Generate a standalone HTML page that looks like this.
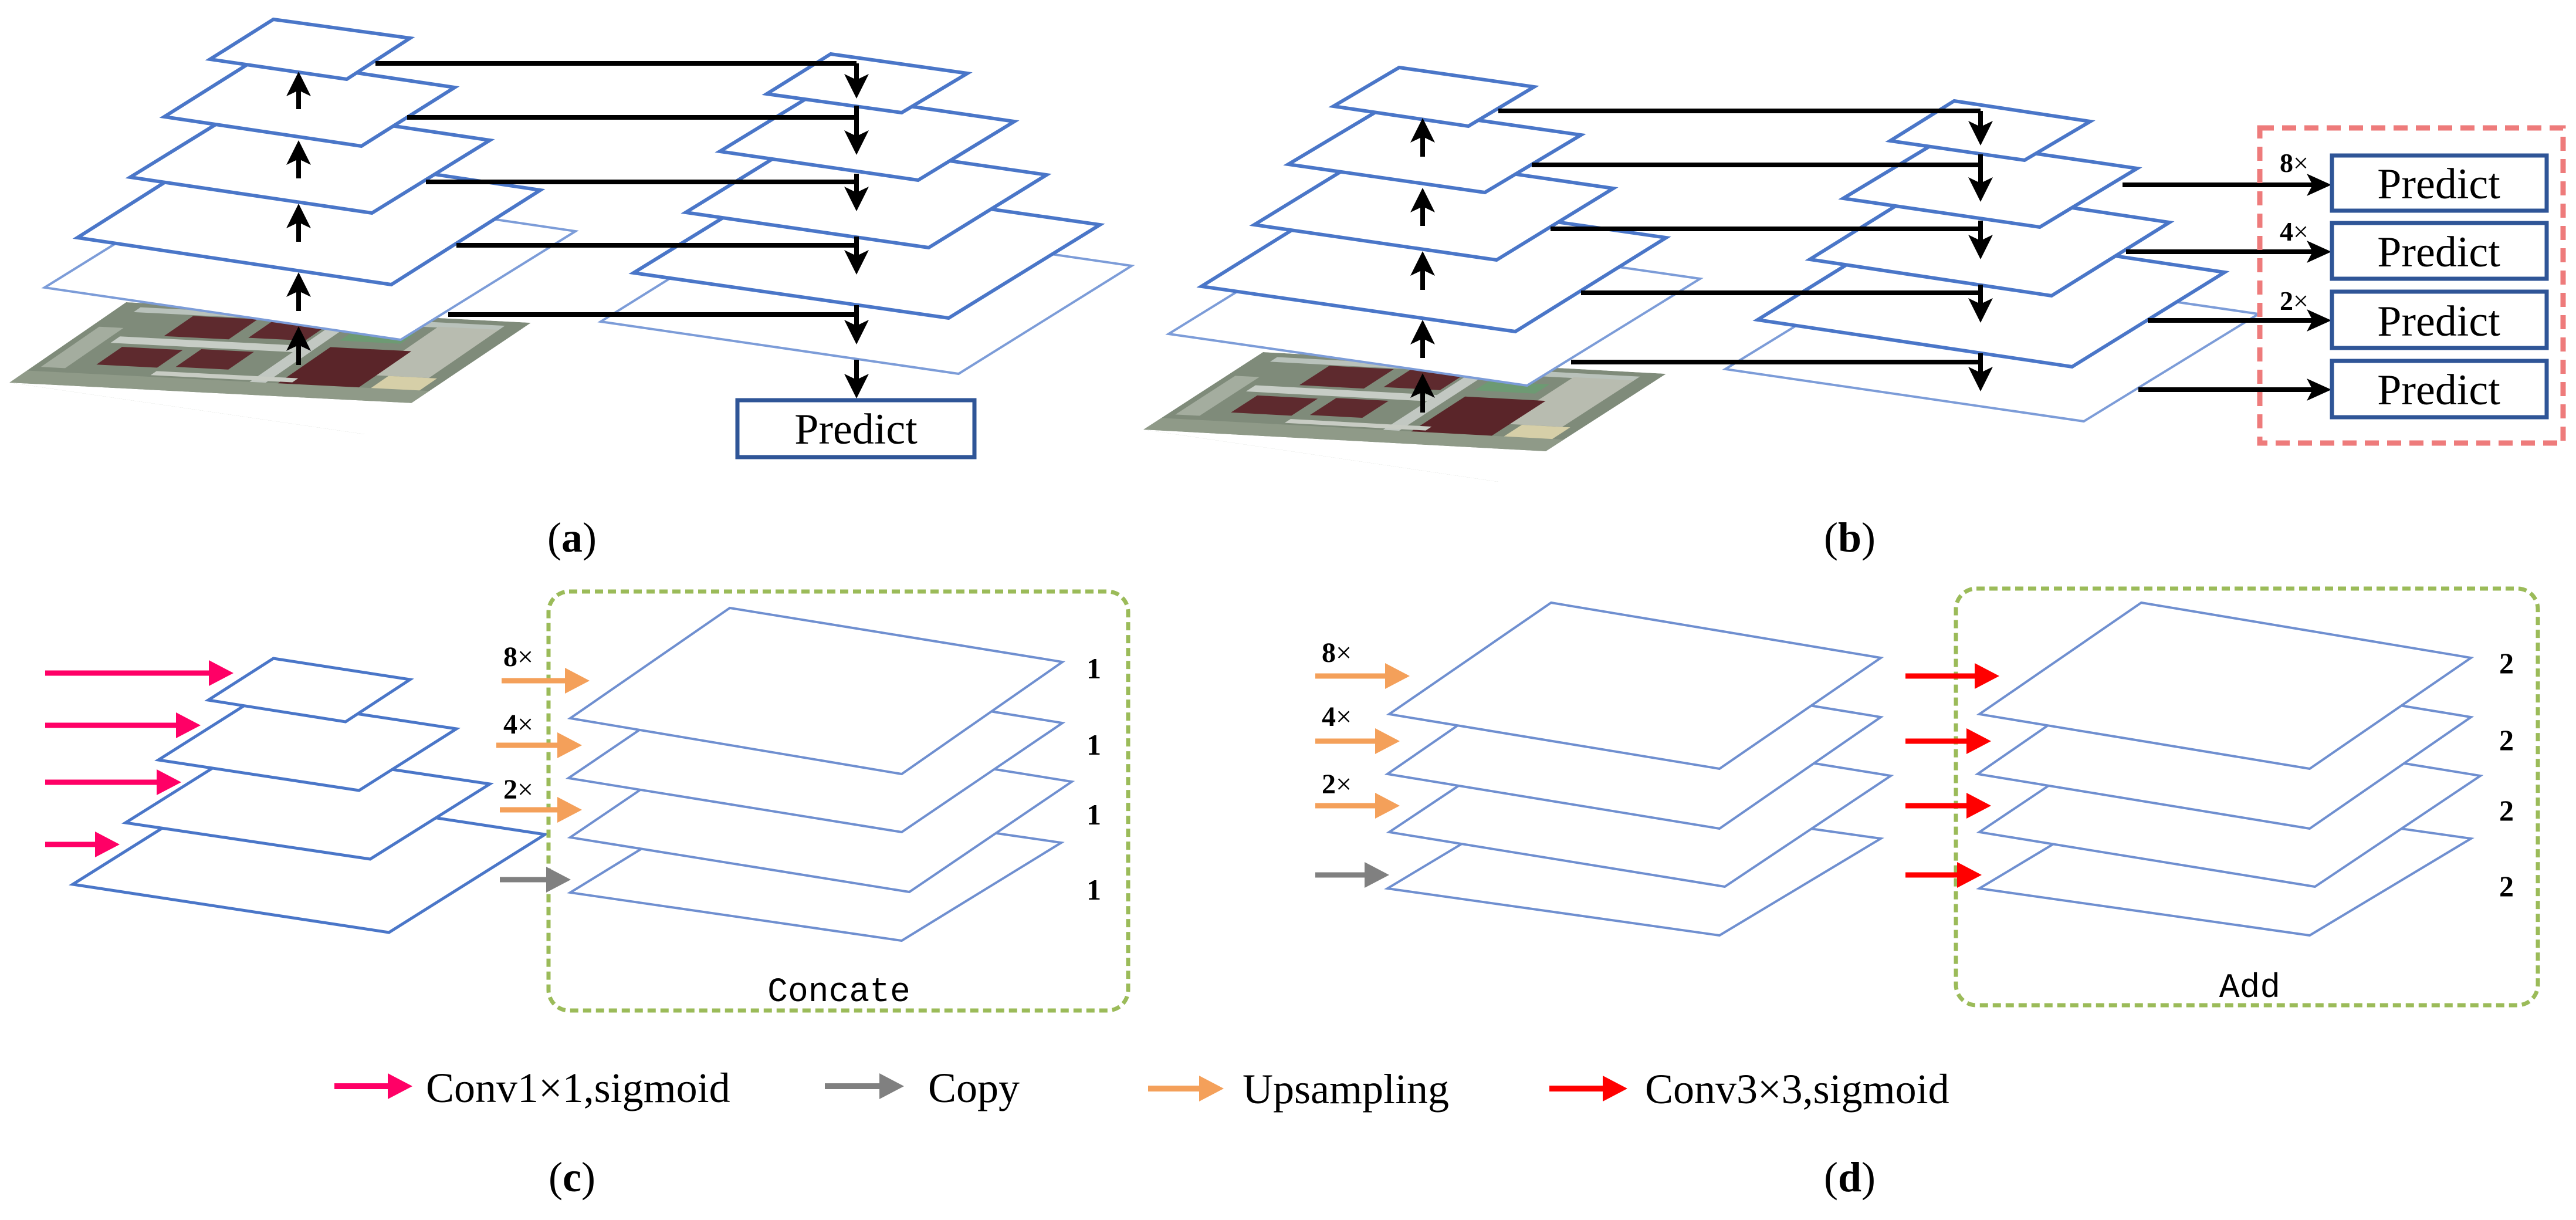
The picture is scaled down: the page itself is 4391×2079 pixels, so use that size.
<!DOCTYPE html>
<html><head><meta charset="utf-8"><style>
html,body{margin:0;padding:0;background:#fff;}
svg{display:block;}
text{font-family:"Liberation Serif",serif;fill:#000;}
</style></head><body>
<svg width="4391" height="2079" viewBox="0 0 4391 2079" xmlns="http://www.w3.org/2000/svg">
<defs>
<clipPath id="ca"><polygon points="215,515 905,550 622,740 16,652"/></clipPath>
<clipPath id="cb"><polygon points="2153,600 2840,637 2554,821 1949,732"/></clipPath>
<g id="sat">
<rect x="0" y="0" width="1" height="1" fill="#7f8b7a"/>
<rect x="0" y="0.85" width="1" height="0.15" fill="#8f9a88"/>
<rect x="0.05" y="0.05" width="0.9" height="0.06" fill="#b9c2bb"/>
<rect x="0.1" y="0.4" width="0.45" height="0.08" fill="#c7cdc6"/>
<rect x="0.55" y="0.05" width="0.04" height="0.8" fill="#c2c8c2"/>
<rect x="0.8" y="0.1" width="0.15" height="0.6" fill="#b8bcb0"/>
<rect x="0.2" y="0.12" width="0.16" height="0.25" fill="#5e2a2e"/>
<rect x="0.4" y="0.1" width="0.14" height="0.24" fill="#5e2a2e"/>
<rect x="0.14" y="0.52" width="0.15" height="0.22" fill="#5e2a2e"/>
<rect x="0.33" y="0.5" width="0.13" height="0.22" fill="#5e2a2e"/>
<rect x="0.62" y="0.4" width="0.2" height="0.45" fill="#5a2529"/>
<rect x="0.62" y="0.2" width="0.15" height="0.12" fill="#6d9a73"/>
<rect x="0.85" y="0.7" width="0.12" height="0.15" fill="#d6cfa8"/>
<rect x="0.02" y="0.3" width="0.06" height="0.5" fill="#a4ad9f"/>
<rect x="0.3" y="0.78" width="0.35" height="0.05" fill="#c8ccc4"/>
</g>
</defs>

<!-- ============ (a) ============ -->
<g clip-path="url(#ca)"><use href="#sat" transform="matrix(690,35,-199,137,215,515)"/><polygon points="622,740 16,652 16,700 622,780" fill="#8a9486"/></g>
<g fill="#fff" stroke-linejoin="miter">
<polygon points="374,305 981,394 683,579 76,490" stroke="#7c9cd8" stroke-width="4"/>
<polygon points="386,244 921,324 667,485 132,405" stroke="#4a76c8" stroke-width="6"/>
<polygon points="423,178 835,239 634,363 222,302" stroke="#4a76c8" stroke-width="6"/>
<polygon points="439,99 775,149 616,249 280,199" stroke="#4a76c8" stroke-width="6"/>
<polygon points="466,33 699,65 591,135 358,101" stroke="#4a76c8" stroke-width="6"/>
<polygon points="1319,364 1929,453 1634,637 1024,548" stroke="#7c9cd8" stroke-width="4"/>
<polygon points="1338,306 1875,383 1617,542 1080,465" stroke="#4a76c8" stroke-width="6"/>
<polygon points="1370,238 1784,298 1583,422 1169,362" stroke="#4a76c8" stroke-width="6"/>
<polygon points="1391,158 1729,207 1565,307 1227,258" stroke="#4a76c8" stroke-width="6"/>
<polygon points="1416,92 1649,125 1537,192 1307,160" stroke="#4a76c8" stroke-width="6"/>
</g>
<g stroke="#000" stroke-width="8" fill="none">
<line x1="509" y1="622" x2="509" y2="586"/><line x1="509" y1="530" x2="509" y2="494"/><line x1="509" y1="412" x2="509" y2="377"/><line x1="509" y1="304" x2="509" y2="269"/><line x1="509" y1="186" x2="509" y2="152"/>
<line x1="640" y1="108" x2="1460" y2="108"/><line x1="694" y1="200" x2="1460" y2="200"/><line x1="726" y1="310" x2="1460" y2="310"/><line x1="778" y1="418" x2="1460" y2="418"/><line x1="764" y1="536" x2="1460" y2="536"/>
<line x1="1460" y1="108" x2="1460" y2="138"/><line x1="1460" y1="180" x2="1460" y2="234"/><line x1="1460" y1="296" x2="1460" y2="330"/><line x1="1460" y1="403" x2="1460" y2="438"/><line x1="1460" y1="520" x2="1460" y2="557"/><line x1="1460" y1="613" x2="1460" y2="649"/>
</g>
<g fill="#000">
<polygon points="509,556 488,598 509,588 530,598"/><polygon points="509,464 488,506 509,496 530,506"/><polygon points="509,347 488,389 509,379 530,389"/><polygon points="509,239 488,281 509,271 530,281"/><polygon points="509,122 488,164 509,154 530,164"/>
<polygon points="1460,168 1439,126 1460,136 1481,126"/><polygon points="1460,264 1439,222 1460,232 1481,222"/><polygon points="1460,360 1439,318 1460,328 1481,318"/><polygon points="1460,468 1439,426 1460,436 1481,426"/><polygon points="1460,587 1439,545 1460,555 1481,545"/><polygon points="1460,679 1439,637 1460,647 1481,637"/>
</g>
<rect x="1257" y="682" width="404" height="97" fill="#fff" stroke="#2f5597" stroke-width="7"/>
<text x="1459" y="756" font-size="74" text-anchor="middle">Predict</text>

<!-- ============ (b) ============ -->
<g clip-path="url(#cb)"><use href="#sat" transform="matrix(687,37,-204,132,2153,600)"/><polygon points="2554,821 1949,732 1949,780 2554,860" fill="#8a9486"/></g>
<g fill="#fff">
<polygon points="2287,387 2898,475 2603,657 1992,569" stroke="#7c9cd8" stroke-width="4"/>
<polygon points="2305,328 2840,405 2583,565 2048,488" stroke="#4a76c8" stroke-width="6"/>
<polygon points="2337,261 2750,321 2551,443 2138,383" stroke="#4a76c8" stroke-width="6"/>
<polygon points="2360,182 2695,230 2531,328 2196,280" stroke="#4a76c8" stroke-width="6"/>
<polygon points="2385,115 2615,148 2503,215 2273,181" stroke="#4a76c8" stroke-width="6"/>
<polygon points="3239,446 3850,535 3552,718 2941,629" stroke="#7c9cd8" stroke-width="4"/>
<polygon points="3256,384 3792,464 3532,625 2996,545" stroke="#4a76c8" stroke-width="6"/>
<polygon points="3286,317 3698,379 3497,504 3085,442" stroke="#4a76c8" stroke-width="6"/>
<polygon points="3308,238 3643,287 3477,387 3142,338" stroke="#4a76c8" stroke-width="6"/>
<polygon points="3331,172 3563,207 3451,273 3222,240" stroke="#4a76c8" stroke-width="6"/>
</g>
<g stroke="#000" stroke-width="8" fill="none">
<line x1="2425" y1="703" x2="2425" y2="666"/><line x1="2425" y1="610" x2="2425" y2="575"/><line x1="2425" y1="494" x2="2425" y2="458"/><line x1="2425" y1="385" x2="2425" y2="350"/><line x1="2425" y1="267" x2="2425" y2="231"/>
<line x1="2554" y1="189" x2="3376" y2="189"/><line x1="2611" y1="281" x2="3376" y2="281"/><line x1="2643" y1="390" x2="3376" y2="390"/><line x1="2695" y1="499" x2="3376" y2="499"/><line x1="2678" y1="617" x2="3376" y2="617"/>
<line x1="3376" y1="189" x2="3376" y2="218"/><line x1="3376" y1="263" x2="3376" y2="314"/><line x1="3376" y1="376" x2="3376" y2="412"/><line x1="3376" y1="485" x2="3376" y2="520"/><line x1="3376" y1="602" x2="3376" y2="637"/>
<line x1="3618" y1="315" x2="3944" y2="315"/><line x1="3624" y1="429" x2="3944" y2="429"/><line x1="3661" y1="546" x2="3944" y2="546"/><line x1="3645" y1="664" x2="3944" y2="664"/>
</g>
<g fill="#000">
<polygon points="2425,636 2404,678 2425,668 2446,678"/><polygon points="2425,545 2404,587 2425,577 2446,587"/><polygon points="2425,428 2404,470 2425,460 2446,470"/><polygon points="2425,320 2404,362 2425,352 2446,362"/><polygon points="2425,201 2404,243 2425,233 2446,243"/>
<polygon points="3376,248 3355,206 3376,216 3397,206"/><polygon points="3376,344 3355,302 3376,312 3397,302"/><polygon points="3376,442 3355,400 3376,410 3397,400"/><polygon points="3376,550 3355,508 3376,518 3397,508"/><polygon points="3376,667 3355,625 3376,635 3397,625"/>
<polygon points="3974,315 3932,296 3942,315 3932,334"/><polygon points="3974,429 3932,410 3942,429 3932,448"/><polygon points="3974,546 3932,527 3942,546 3932,565"/><polygon points="3974,664 3932,645 3942,664 3932,683"/>
</g>
<rect x="3852" y="218" width="517" height="537" fill="none" stroke="#ee7b7b" stroke-width="9" stroke-dasharray="24 14"/>
<g fill="#fff" stroke="#2f5597" stroke-width="7">
<rect x="3975" y="265" width="366" height="94"/><rect x="3975" y="380" width="366" height="95"/><rect x="3975" y="497" width="366" height="96"/><rect x="3975" y="615" width="366" height="96"/>
</g>
<g font-size="74" text-anchor="middle">
<text x="4157" y="338">Predict</text><text x="4157" y="454">Predict</text><text x="4157" y="572">Predict</text><text x="4157" y="689">Predict</text>
</g>
<g font-size="46"><text x="3886" y="293"><tspan font-weight="bold">8</tspan>×</text><text x="3886" y="410"><tspan font-weight="bold">4</tspan>×</text><text x="3886" y="528"><tspan font-weight="bold">2</tspan>×</text></g>

<text x="975" y="940" font-size="72" text-anchor="middle">(<tspan font-weight="bold">a</tspan>)</text>
<text x="3153" y="940" font-size="72" text-anchor="middle">(<tspan font-weight="bold">b</tspan>)</text>

<!-- ============ (c) ============ -->
<g fill="#fff" stroke="#4a76c8" stroke-width="5">
<polygon points="390,1340 929,1422 663,1589 124,1507"/>
<polygon points="418,1274 835,1336 631,1464 214,1402"/>
<polygon points="436,1190 778,1242 612,1347 270,1295"/>
<polygon points="466,1122 699,1158 589,1230 355,1193"/>
</g>
<rect x="935" y="1008" width="988" height="714" rx="35" fill="none" stroke="#9bbb59" stroke-width="7" stroke-dasharray="14 8"/>
<g fill="#fff" stroke="#6f8fd0" stroke-width="4">
<polygon points="1244,1354 1809,1436 1537,1603 972,1521"/>
<polygon points="1249,1239 1827,1332 1550,1520 972,1427"/>
<polygon points="1243,1140 1811,1232 1537,1418 969,1326"/>
<polygon points="1244,1036 1811,1128 1537,1319 972,1224"/>
</g>
<g stroke-width="9">
<line x1="77" y1="1147" x2="365" y2="1147" stroke="#ff0066"/><line x1="77" y1="1236" x2="309" y2="1236" stroke="#ff0066"/><line x1="77" y1="1333" x2="276" y2="1333" stroke="#ff0066"/><line x1="77" y1="1439" x2="171" y2="1439" stroke="#ff0066"/>
<line x1="855" y1="1160" x2="970" y2="1160" stroke="#f4a05a"/><line x1="846" y1="1270" x2="957" y2="1270" stroke="#f4a05a"/><line x1="852" y1="1380" x2="957" y2="1380" stroke="#f4a05a"/><line x1="852" y1="1499" x2="938" y2="1499" stroke="#808080"/>
</g>
<g>
<polygon points="398,1147 356,1125 356,1169" fill="#ff0066"/><polygon points="342,1236 300,1214 300,1258" fill="#ff0066"/><polygon points="309,1333 267,1311 267,1355" fill="#ff0066"/><polygon points="204,1439 162,1417 162,1461" fill="#ff0066"/>
<polygon points="1005,1160 963,1138 963,1182" fill="#f4a05a"/><polygon points="992,1270 950,1248 950,1292" fill="#f4a05a"/><polygon points="992,1380 950,1358 950,1402" fill="#f4a05a"/><polygon points="973,1499 931,1477 931,1521" fill="#808080"/>
</g>
<g font-size="48"><text x="858" y="1135"><tspan font-weight="bold">8</tspan>×</text><text x="858" y="1250"><tspan font-weight="bold">4</tspan>×</text><text x="858" y="1361"><tspan font-weight="bold">2</tspan>×</text></g>
<g font-size="50" font-weight="bold"><text x="1852" y="1156">1</text><text x="1852" y="1286">1</text><text x="1852" y="1405">1</text><text x="1852" y="1533">1</text></g>
<text x="1430" y="1706" font-size="58" text-anchor="middle" style="font-family:'Liberation Mono',monospace">Concate</text>

<!-- ============ (d) ============ -->
<g fill="#fff" stroke="#6f8fd0" stroke-width="4">
<polygon points="2640,1349 3206,1429 2931,1594 2365,1514"/>
<polygon points="2651,1229 3223,1322 2940,1511 2368,1418"/>
<polygon points="2640,1129 3206,1222 2931,1412 2365,1319"/>
<polygon points="2644,1027 3206,1121 2931,1310 2368,1217"/>
</g>
<rect x="3334" y="1003" width="992" height="710" rx="35" fill="none" stroke="#9bbb59" stroke-width="7" stroke-dasharray="14 8"/>
<g fill="#fff" stroke="#6f8fd0" stroke-width="4">
<polygon points="3649,1349 4212,1429 3937,1594 3374,1514"/>
<polygon points="3656,1229 4228,1322 3946,1511 3374,1418"/>
<polygon points="3646,1129 4212,1222 3937,1412 3371,1319"/>
<polygon points="3650,1027 4212,1121 3937,1310 3374,1217"/>
</g>
<g stroke-width="9">
<line x1="2242" y1="1152" x2="2368" y2="1152" stroke="#f4a05a"/><line x1="2242" y1="1263" x2="2351" y2="1263" stroke="#f4a05a"/><line x1="2242" y1="1373" x2="2351" y2="1373" stroke="#f4a05a"/><line x1="2242" y1="1491" x2="2333" y2="1491" stroke="#808080"/>
<line x1="3248" y1="1152" x2="3373" y2="1152" stroke="#ff0000"/><line x1="3248" y1="1263" x2="3359" y2="1263" stroke="#ff0000"/><line x1="3248" y1="1373" x2="3359" y2="1373" stroke="#ff0000"/><line x1="3248" y1="1491" x2="3343" y2="1491" stroke="#ff0000"/>
</g>
<g>
<polygon points="2403,1152 2361,1130 2361,1174" fill="#f4a05a"/><polygon points="2386,1263 2344,1241 2344,1285" fill="#f4a05a"/><polygon points="2386,1373 2344,1351 2344,1395" fill="#f4a05a"/><polygon points="2368,1491 2326,1469 2326,1513" fill="#808080"/>
<polygon points="3408,1152 3366,1130 3366,1174" fill="#ff0000"/><polygon points="3394,1263 3352,1241 3352,1285" fill="#ff0000"/><polygon points="3394,1373 3352,1351 3352,1395" fill="#ff0000"/><polygon points="3378,1491 3336,1469 3336,1513" fill="#ff0000"/>
</g>
<g font-size="48"><text x="2253" y="1128"><tspan font-weight="bold">8</tspan>×</text><text x="2253" y="1237"><tspan font-weight="bold">4</tspan>×</text><text x="2253" y="1352"><tspan font-weight="bold">2</tspan>×</text></g>
<g font-size="50" font-weight="bold"><text x="4260" y="1147">2</text><text x="4260" y="1278">2</text><text x="4260" y="1398">2</text><text x="4260" y="1527">2</text></g>
<text x="3835" y="1699" font-size="58" text-anchor="middle" style="font-family:'Liberation Mono',monospace">Add</text>

<!-- ============ legend ============ -->
<g stroke-width="10">
<line x1="570" y1="1851" x2="672" y2="1851" stroke="#ff0066"/>
<line x1="1406" y1="1851" x2="1510" y2="1851" stroke="#808080"/>
<line x1="1957" y1="1855" x2="2055" y2="1855" stroke="#f4a05a"/>
<line x1="2641" y1="1855" x2="2743" y2="1855" stroke="#ff0000"/>
</g>
<polygon points="703,1851 661,1829 661,1873" fill="#ff0066"/>
<polygon points="1541,1851 1499,1829 1499,1873" fill="#808080"/>
<polygon points="2086,1855 2044,1833 2044,1877" fill="#f4a05a"/>
<polygon points="2774,1855 2732,1833 2732,1877" fill="#ff0000"/>
<g font-size="72">
<text x="726" y="1878">Conv1×1,sigmoid</text>
<text x="1582" y="1878">Copy</text>
<text x="2118" y="1880">Upsampling</text>
<text x="2804" y="1880">Conv3×3,sigmoid</text>
</g>
<text x="975" y="2030" font-size="72" text-anchor="middle">(<tspan font-weight="bold">c</tspan>)</text>
<text x="3153" y="2030" font-size="72" text-anchor="middle">(<tspan font-weight="bold">d</tspan>)</text>
</svg>
</body></html>
